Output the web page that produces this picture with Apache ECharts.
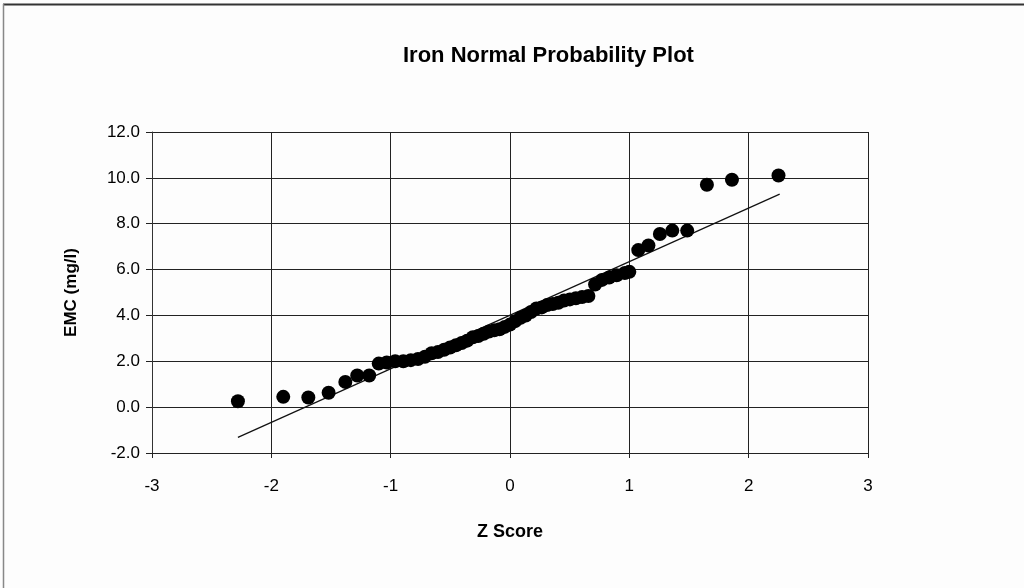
<!DOCTYPE html>
<html>
<head>
<meta charset="utf-8">
<script src="https://cdn.jsdelivr.net/npm/echarts@6/dist/echarts.min.js"></script>
<style>
  html, body { margin: 0; padding: 0; background: #fdfdfd; }
  #chart { width: 1024px; height: 588px; }
</style>
</head>
<body>
<div id="chart"></div>
<script>
// Z scores (normal quantiles) of the ranked iron EMC samples
const zScores = [
  -2.28, -1.90, -1.69, -1.52, -1.38, -1.28, -1.18, -1.10,
  -1.033, -0.962, -0.894, -0.831, -0.771, -0.713, -0.657, -0.604,
  -0.552, -0.502, -0.453, -0.405, -0.358, -0.311, -0.266, -0.221,
  -0.176, -0.132, -0.088, -0.044, 0.0, 0.044, 0.088, 0.132,
  0.176, 0.221, 0.266, 0.311, 0.358, 0.405, 0.453, 0.502,
  0.552, 0.604, 0.657, 0.713, 0.771, 0.831, 0.894, 0.962,
  1.0, 1.075, 1.16, 1.256, 1.36, 1.485, 1.65, 1.86, 2.25
];
// Ranked iron EMC values (mg/l)
const emcValues = [
  0.26, 0.45, 0.42, 0.63, 1.10, 1.38, 1.38, 1.90,
  1.95, 2.00, 2.00, 2.05, 2.10, 2.20, 2.35, 2.40,
  2.50, 2.60, 2.70, 2.80, 2.90, 3.05, 3.10, 3.20,
  3.30, 3.35, 3.40, 3.50, 3.60, 3.75, 3.90, 4.00,
  4.15, 4.30, 4.35, 4.45, 4.50, 4.55, 4.65, 4.70,
  4.75, 4.80, 4.85, 5.35, 5.55, 5.65, 5.75, 5.85,
  5.90, 6.85, 7.05, 7.55, 7.70, 7.70, 9.70, 9.92, 10.10
];
// End points of the fitted normal line
const fitZ = [-2.28, 2.26];
const fitEmc = [-1.32, 9.29];

const xTicks = { min: -3, max: 3, interval: 1 };
const yTicks = { min: -2, max: 12, interval: 2 };

const points = zScores.map((z, i) => [z, emcValues[i]]);
const fitLine = fitZ.map((z, i) => [z, fitEmc[i]]);

const chart = echarts.init(document.getElementById('chart'));
const font = 'Liberation Sans, Arial, sans-serif';

chart.setOption({
  backgroundColor: '#fdfdfd',
  animation: false,
  title: {
    text: 'Iron Normal Probability Plot',
    left: 398,
    top: 40,
    textStyle: { fontFamily: font, fontSize: 22, fontWeight: 'bold', color: '#000' }
  },
  grid: { left: 152, right: 156, top: 132, bottom: 135 },
  xAxis: {
    type: 'value',
    min: xTicks.min, max: xTicks.max, interval: xTicks.interval,
    name: 'Z Score',
    nameLocation: 'middle',
    nameGap: 70,
    nameTextStyle: { fontFamily: font, fontSize: 18, fontWeight: 'bold', color: '#000' },
    axisLine: { show: true, onZero: false, lineStyle: { color: '#222', width: 1 } },
    axisTick: { show: true, length: 5, lineStyle: { color: '#222' } },
    axisLabel: { fontFamily: font, fontSize: 17, color: '#000', margin: 25 },
    splitLine: { show: true, lineStyle: { color: '#222', width: 1 } }
  },
  yAxis: {
    type: 'value',
    min: yTicks.min, max: yTicks.max, interval: yTicks.interval,
    name: 'EMC (mg/l)',
    nameLocation: 'middle',
    nameGap: 72,
    nameRotate: 90,
    nameTextStyle: { fontFamily: font, fontSize: 17, fontWeight: 'bold', color: '#000' },
    axisLine: { show: true, onZero: false, lineStyle: { color: '#333', width: 1 } },
    axisTick: { show: true, length: 6, lineStyle: { color: '#222' } },
    axisLabel: {
      fontFamily: font, fontSize: 17, color: '#000', margin: 12,
      formatter: v => v.toFixed(1)
    },
    splitLine: { show: true, lineStyle: { color: '#222', width: 1 } }
  },
  series: [
    {
      type: 'line',
      data: fitLine,
      symbol: 'none',
      lineStyle: { color: '#111', width: 1.2 },
      z: 2
    },
    {
      type: 'scatter',
      data: points,
      symbol: 'circle',
      symbolSize: 14,
      itemStyle: { color: '#000', opacity: 1 },
      z: 3
    }
  ],
  graphic: [
    { type: 'line', shape: { x1: 3, y1: 4.5, x2: 1024, y2: 4.5 }, style: { stroke: '#333', lineWidth: 2 } },
    { type: 'line', shape: { x1: 3.5, y1: 4, x2: 3.5, y2: 588 }, style: { stroke: '#888', lineWidth: 1.5 } }
  ]
});
</script>
</body>
</html>
